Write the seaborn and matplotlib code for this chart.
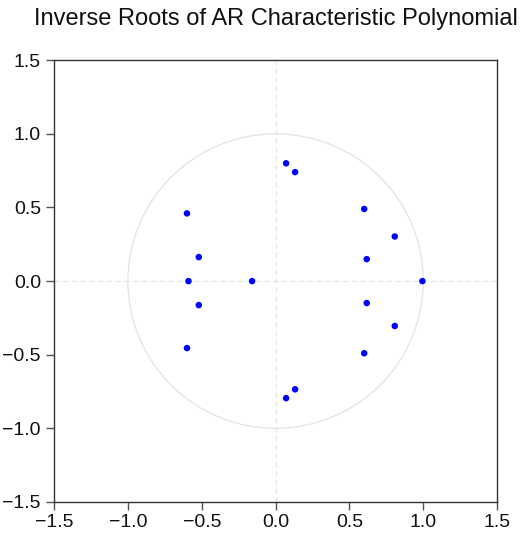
import matplotlib
matplotlib.use("Agg")
import matplotlib.pyplot as plt
import matplotlib.patches as mpatches
import seaborn as sns
import pandas as pd

# Inverse roots (real, imaginary)
real_parts = [0.071, 0.132, -0.60, -0.52, -0.59, -0.159, -0.52, -0.60,
              0.60, 0.807, 0.617, 0.994, 0.617, 0.807, 0.60, 0.071, 0.132]
imag_parts = [0.80, 0.74, 0.46, 0.163, 0.0, 0.0, -0.163, -0.455,
              0.49, 0.303, 0.149, 0.0, -0.149, -0.305, -0.49, -0.795, -0.735]
tick_values = [-1.5, -1.0, -0.5, 0.0, 0.5, 1.0, 1.5]
title_text = "Inverse Roots of AR Characteristic Polynomial"

sns.set_style("white")
plt.rcParams['font.family'] = ['Liberation Sans', 'DejaVu Sans']
plt.rcParams['axes.unicode_minus'] = True

df = pd.DataFrame({"re": real_parts, "im": imag_parts})

fig = plt.figure(figsize=(5.2, 5.38), dpi=100)
ax = fig.add_axes([0.104, 0.067, 0.852, 0.821])

# unit circle and axis cross
ax.add_patch(mpatches.Circle((0, 0), 1.0, fill=False, edgecolor="#e3e3e3", linewidth=0.9, zorder=1))
ax.axhline(0, color="#e6e6e6", linestyle=(0, (4, 3)), linewidth=0.9, zorder=1)
ax.axvline(0, color="#e6e6e6", linestyle=(0, (4, 3)), linewidth=0.9, zorder=1)

sns.scatterplot(data=df, x="re", y="im", ax=ax, color="#0000ff", s=22,
                edgecolor="none", zorder=3, legend=False)

ax.set_xlim(-1.5, 1.5)
ax.set_ylim(-1.5, 1.5)
ax.set_xticks(tick_values)
ax.set_yticks(tick_values)
ax.set_xticklabels([f"{v:.1f}".replace("-", "\u2212") for v in tick_values])
ax.set_yticklabels([f"{v:.1f}".replace("-", "\u2212") for v in tick_values])
ax.set_xlabel("")
ax.set_ylabel("")

for sp in ax.spines.values():
    sp.set_visible(True)
    sp.set_color("#333333")
    sp.set_linewidth(1.0)

ax.tick_params(axis="both", which="major", direction="out", length=6, width=1.0,
               color="#555555", labelsize=14, labelcolor="#111111",
               bottom=True, left=True, top=False, right=False)
ax.tick_params(axis="y", pad=3.5)
ax.tick_params(axis="x", pad=3)

fig.text(0.531, 0.965, title_text, ha="center", va="center", fontsize=17, color="#111111")

fig.savefig("out.png", dpi=100)
